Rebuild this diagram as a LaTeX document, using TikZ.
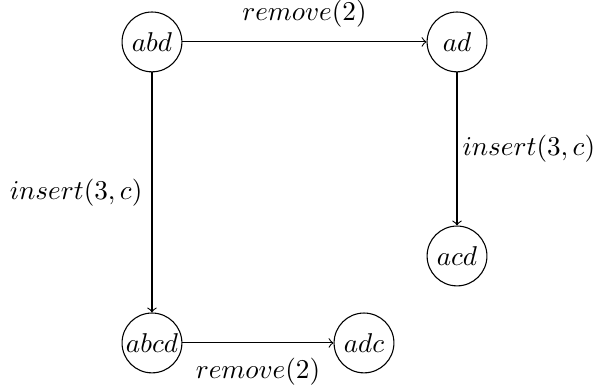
\documentclass[tikz,border=0pt]{standalone}
\begin{document}
\begin{tikzpicture}[word/.style={circle,draw,inner sep=0.5pt,minimum size=22pt}]
\useasboundingbox (0,0) rectangle (7.689,4.975);

\node[word] (abd) at (1.964,4.433) {$abd$};
\node[word] (ad) at (5.906,4.433) {$ad$};
\node[word] (acd) at (5.906,1.667) {$acd$};
\node[word] (abcd) at (1.964,0.543) {$abcd$};
\node[word] (adc) at (4.704,0.543) {$adc$};

\draw[->] (abd) -- node[above=2pt] {$remove(2)$} (ad);
\draw[->] (ad) -- node[right,xshift=-1.5pt] {$insert(3,c)$} (acd);
\draw[->] (abd) -- node[left] {$insert(3,c)$} (abcd);
\draw[->] (abcd) -- node[below=2pt] {$remove(2)$} (adc);
\end{tikzpicture}
\end{document}
